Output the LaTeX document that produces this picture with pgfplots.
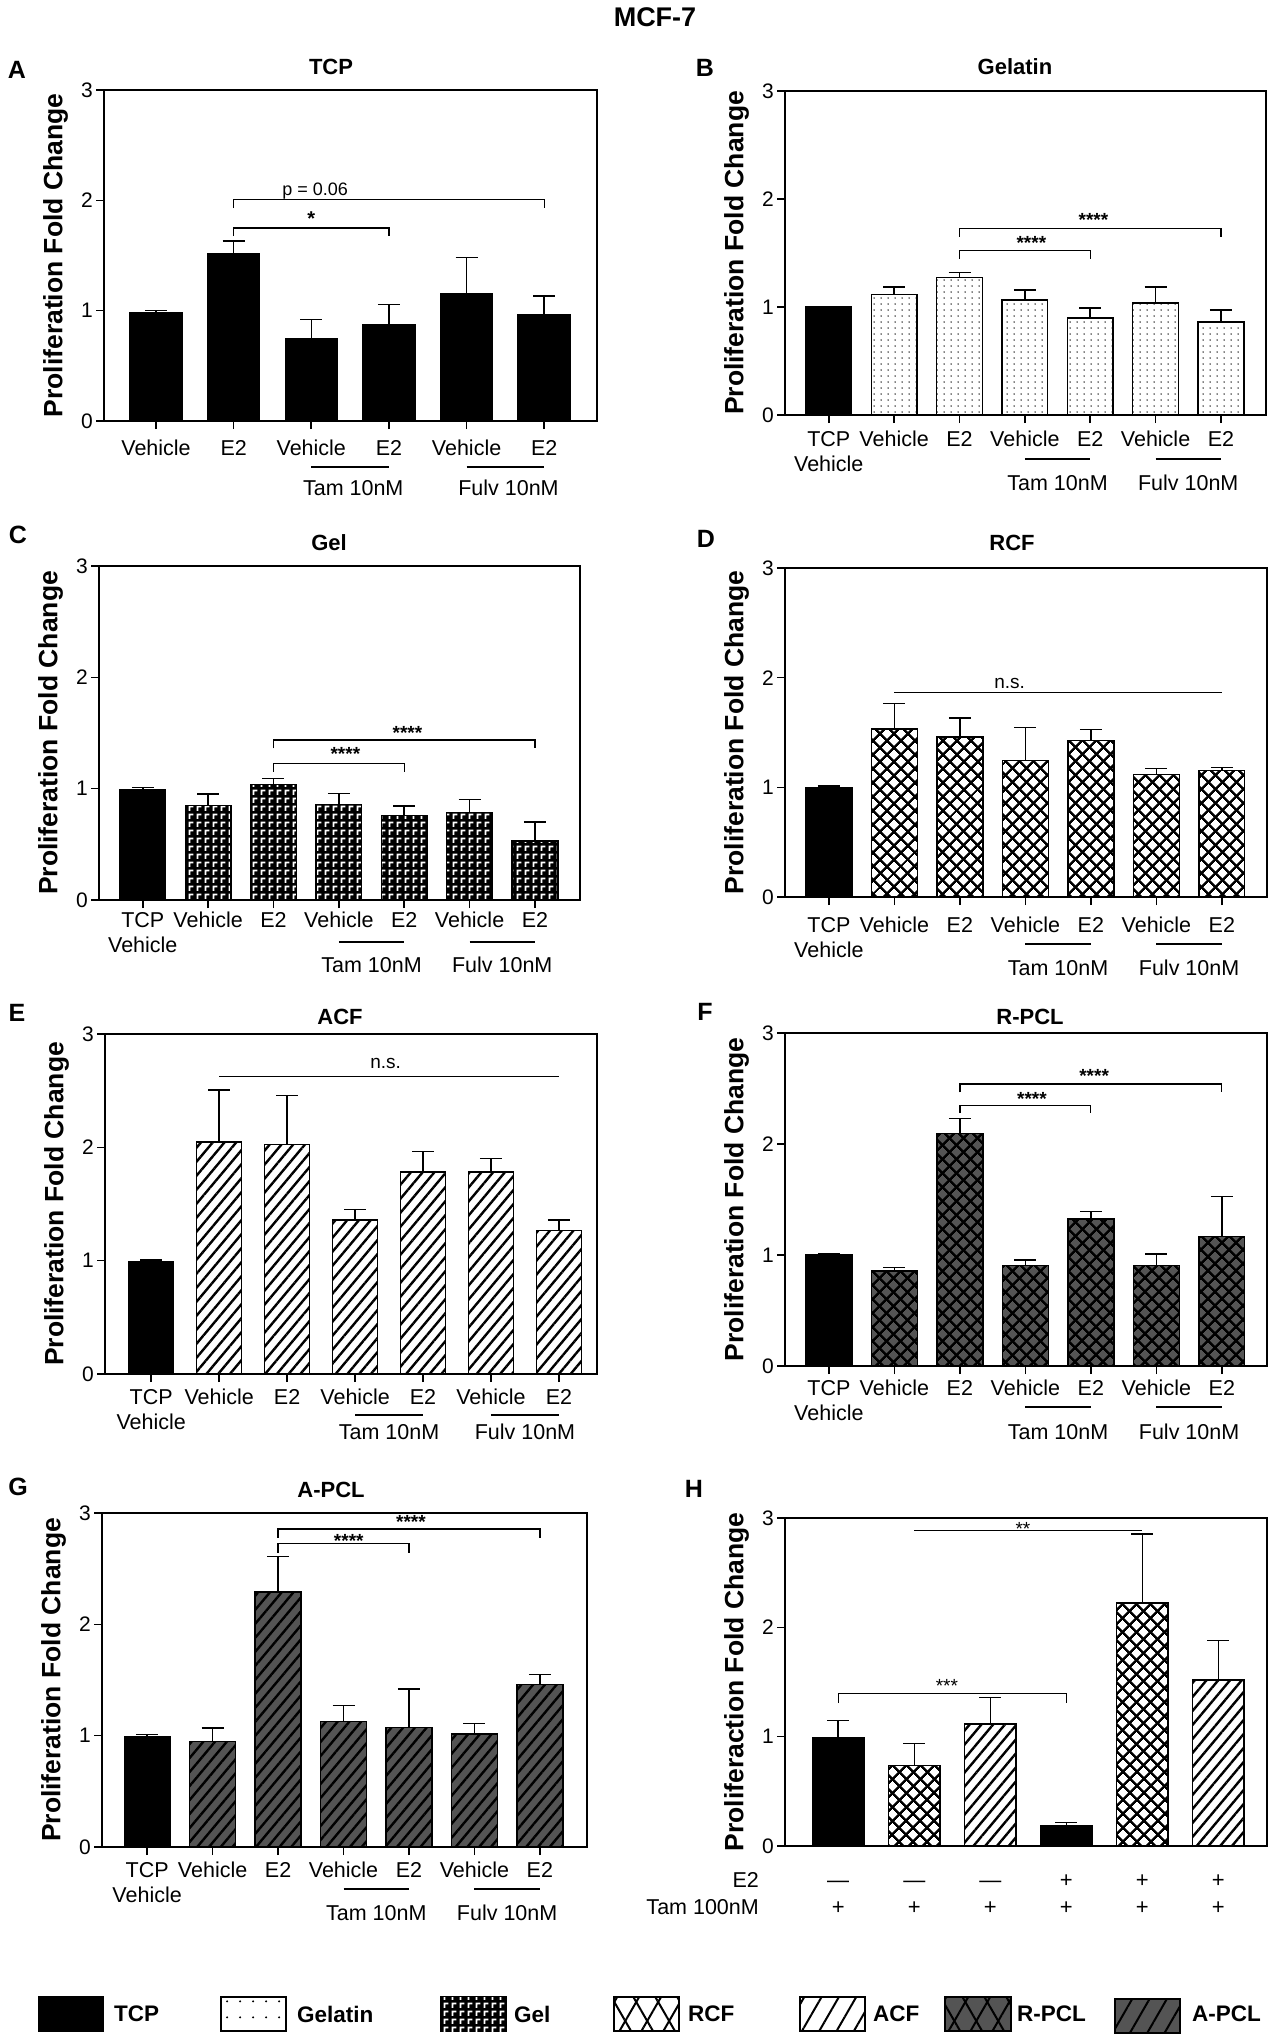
\documentclass[border=0pt]{standalone}
\usepackage{fontspec}
\setmainfont{Liberation Sans}
\usepackage{pgfplots}
\pgfplotsset{compat=1.18}
\usetikzlibrary{patterns,patterns.meta}

\definecolor{pclgray}{RGB}{84,84,84}
\newcommand\fs[1]{\fontsize{#1}{#1}\selectfont}

% fill patterns of the scaffolds
\tikzdeclarepattern{
  name=geldots,
  type=uncolored,
  bounding box={(0pt,0pt) and (6.6pt,6.4pt)},
  tile size={(6.6pt,6.4pt)},
  code={\fill (3.3pt,3.2pt) circle (0.85pt);}
}
\tikzdeclarepattern{
  name=geldotsbig,
  type=uncolored,
  bounding box={(0pt,0pt) and (13pt,16pt)},
  tile size={(13pt,16pt)},
  code={\fill (6.5pt,8pt) circle (1.2pt);}
}
% white corner marks on black for Gel
\tikzdeclarepattern{
  name=gelmark,
  type=uncolored,
  bounding box={(0pt,0pt) and (7.5pt,7.5pt)},
  tile size={(7.5pt,7.5pt)},
  code={\draw[line width=1.9pt] (1.6pt,1.2pt) -- (1.6pt,5.8pt) -- (5.6pt,5.8pt);}
}

\pgfplotsset{
  panel/.style={
    scale only axis, anchor=south west, clip=false,
    ymin=0, ymax=3, ytick={0,1,2,3},
    axis line style={line width=1.8pt},
    tick style={black, line width=1.6pt},
    major tick length=8pt, tick align=outside,
    xtick pos=bottom, ytick pos=left,
    xtick={1,...,7},
    /pgf/number format/assume math mode=true,
    yticklabel style={font=\fs{21}, inner sep=0pt, anchor=east, xshift=-3pt},
    xticklabel style={font=\fontsize{21.5}{25.5}\selectfont, inner sep=0pt, anchor=north, align=center},
    xticklabels={TCP\\Vehicle, Vehicle, E2, Vehicle, E2, Vehicle, E2},
    error bars/y dir=plus, error bars/y explicit,
    error bars/error bar style={line width=1.5pt, black},
    error bars/error mark options={rotate=90, black, line width=1.5pt, mark size=11pt},
  },
  tcpbar/.style={ybar, bar shift=0pt, draw=black, line width=1.5pt, fill=black},
  gelatinbar/.style={ybar, bar shift=0pt, draw=black, line width=1.5pt, fill=white,
    postaction={pattern=geldots}},
  gelbar/.style={ybar, bar shift=0pt, draw=black, line width=1.5pt, fill=black,
    postaction={pattern=gelmark, pattern color=white}},
  rcfbar/.style={ybar, bar shift=0pt, draw=black, line width=1.5pt, fill=white,
    postaction={pattern={Lines[angle=45,distance=10.5pt,line width=2.6pt]}},
    postaction={pattern={Lines[angle=-45,distance=10.5pt,line width=2.6pt]}}},
  acfbar/.style={ybar, bar shift=0pt, draw=black, line width=1.5pt, fill=white,
    postaction={pattern={Lines[angle=50,distance=9pt,line width=2.4pt]}}},
  rpclbar/.style={ybar, bar shift=0pt, draw=black, line width=1.5pt, fill=pclgray,
    postaction={pattern={Lines[angle=45,distance=10.5pt,line width=2.6pt]}},
    postaction={pattern={Lines[angle=-45,distance=10.5pt,line width=2.6pt]}}},
  apclbar/.style={ybar, bar shift=0pt, draw=black, line width=1.5pt, fill=pclgray,
    postaction={pattern={Lines[angle=50,distance=9pt,line width=2.4pt]}}},
}

% bracket: x1, x2, height, foot
\newcommand\brk[4]{\draw[line width=1.3pt] (axis cs:#1,#4) |- (axis cs:#2,#3) -- (axis cs:#2,#4);}
% group line under the ticks: x1, x2, xc, line offset, text baseline offset, text
\newcommand\grp[6]{%
  \draw[line width=1.5pt] ([yshift=-#4pt]axis cs:#1,0) -- ([yshift=-#4pt]axis cs:#2,0);
  \node[font=\fs{21.5}, anchor=base, inner sep=0pt] at ([yshift=-#5pt]axis cs:#3,0) {#6};}
\newcommand\stars[3]{\node[font=\fs{19}\bfseries, inner sep=0pt, yshift=-4pt] at (axis cs:#1,#2) {#3};}
% sign under a bar of panel H: x, baseline offset, sign
\newcommand\sgn[3]{\node[font=\fs{22}, anchor=base, inner sep=0pt] at ([yshift=-#2pt]axis cs:#1,0) {#3};}

\begin{document}
\begin{tikzpicture}
\useasboundingbox (0pt,0pt) rectangle (1276pt,-2040pt);

\node[font=\fs{27}\bfseries] at (655pt,-17pt) {MCF-7};

% ---------- A: TCP
\begin{axis}[panel, at={(104pt,-421pt)}, width=493pt, height=331pt,
  xmin=0.33, xmax=6.68, xtick={1,...,6},
  xticklabels={Vehicle,E2,Vehicle,E2,Vehicle,E2},
  xticklabel style={yshift=-11pt}]
\addplot[tcpbar, bar width=0.67] coordinates {
  (1,0.985) +- (0,0.015) (2,1.518) +- (0,0.115) (3,0.75) +- (0,0.169)
  (4,0.868) +- (0,0.19) (5,1.155) +- (0,0.325) (6,0.965) +- (0,0.169)};
\brk{2}{4}{1.75}{1.675}
\brk{2}{6}{2.008}{1.93}
\node[font=\fs{20}\bfseries, inner sep=0pt, yshift=-4pt] at (axis cs:3,1.867) {*};
\node[font=\fs{18}, anchor=base, inner sep=0pt] at (axis cs:3.05,2.048) {p = 0.06};
\grp{3}{4}{3.54}{46}{74.7}{Tam 10nM}
\grp{5}{6}{5.54}{46}{74.7}{Fulv 10nM}
\end{axis}

% ---------- B: Gelatin
\begin{axis}[panel, at={(785pt,-415pt)}, width=481pt, height=324pt,
  xmin=0.33, xmax=7.69, xticklabel style={yshift=-8pt}]
\addplot[tcpbar, bar width=0.7] coordinates {(1,1.0) +- (0,0.006)};
\addplot[gelatinbar, bar width=0.7] coordinates {
  (2,1.116) +- (0,0.071) (3,1.274) +- (0,0.046) (4,1.064) +- (0,0.092)
  (5,0.90) +- (0,0.093) (6,1.039) +- (0,0.145) (7,0.86) +- (0,0.111)};
\brk{3}{5}{1.526}{1.449}
\brk{3}{7}{1.727}{1.65}
\stars{4.1}{1.63}{****}
\stars{5.05}{1.843}{****}
\grp{4}{5}{4.5}{44}{75.7}{Tam 10nM}
\grp{6}{7}{6.5}{44}{75.7}{Fulv 10nM}
\end{axis}

% ---------- C: Gel
\begin{axis}[panel, at={(99pt,-900pt)}, width=481pt, height=334pt,
  xmin=0.33, xmax=7.69, xticklabel style={yshift=-4pt}]
\addplot[tcpbar, bar width=0.7] coordinates {(1,0.994) +- (0,0.016)};
\addplot[gelbar, bar width=0.7] coordinates {
  (2,0.85) +- (0,0.102) (3,1.036) +- (0,0.057) (4,0.859) +- (0,0.099)
  (5,0.76) +- (0,0.084) (6,0.784) +- (0,0.12) (7,0.53) +- (0,0.17)};
\brk{3}{5}{1.228}{1.153}
\brk{3}{7}{1.437}{1.362}
\stars{4.1}{1.348}{****}
\stars{5.05}{1.534}{****}
\grp{4}{5}{4.5}{42}{72.7}{Tam 10nM}
\grp{6}{7}{6.5}{42}{72.7}{Fulv 10nM}
\end{axis}

% ---------- D: RCF
\begin{axis}[panel, at={(785pt,-897pt)}, width=482pt, height=329pt,
  xmin=0.33, xmax=7.69, xticklabel style={yshift=-12pt}]
\addplot[tcpbar, bar width=0.7] coordinates {(1,0.999) +- (0,0.011)};
\addplot[rcfbar, bar width=0.7] coordinates {
  (2,1.532) +- (0,0.232) (3,1.459) +- (0,0.174) (4,1.243) +- (0,0.301)
  (5,1.429) +- (0,0.10) (6,1.118) +- (0,0.055) (7,1.154) +- (0,0.025)};
\draw[line width=1.5pt] (axis cs:2,1.864) -- (axis cs:7,1.864);
\node[font=\fs{19}, anchor=base, inner sep=0pt] at (axis cs:3.76,1.905) {n.s.};
\grp{4}{5}{4.5}{47}{78.7}{Tam 10nM}
\grp{6}{7}{6.5}{47}{78.7}{Fulv 10nM}
\end{axis}

% ---------- E: ACF
\begin{axis}[panel, at={(105pt,-1374pt)}, width=492pt, height=340pt,
  xmin=0.32, xmax=7.56, xticklabel style={yshift=-7pt}]
\addplot[tcpbar, bar width=0.66] coordinates {(1,0.988) +- (0,0.018)};
\addplot[acfbar, bar width=0.66] coordinates {
  (2,2.047) +- (0,0.459) (3,2.024) +- (0,0.435) (4,1.359) +- (0,0.094)
  (5,1.782) +- (0,0.18) (6,1.782) +- (0,0.118) (7,1.265) +- (0,0.094)};
\draw[line width=1.5pt] (axis cs:2,2.624) -- (axis cs:7,2.624);
\node[font=\fs{19}, anchor=base, inner sep=0pt] at (axis cs:4.45,2.70) {n.s.};
\grp{4}{5}{4.5}{41}{65.7}{Tam 10nM}
\grp{6}{7}{6.5}{41}{65.7}{Fulv 10nM}
\end{axis}

% ---------- F: R-PCL
\begin{axis}[panel, at={(785pt,-1366pt)}, width=482pt, height=333pt,
  xmin=0.33, xmax=7.69, xticklabel style={yshift=-6pt}]
\addplot[tcpbar, bar width=0.7] coordinates {(1,0.999) +- (0,0.009)};
\addplot[rpclbar, bar width=0.7] coordinates {
  (2,0.858) +- (0,0.03) (3,2.097) +- (0,0.133) (4,0.906) +- (0,0.051)
  (5,1.324) +- (0,0.069) (6,0.906) +- (0,0.102) (7,1.165) +- (0,0.364)};
\brk{3}{5}{2.35}{2.278}
\brk{3}{7}{2.54}{2.465}
\stars{4.1}{2.44}{****}
\stars{5.05}{2.65}{****}
\grp{4}{5}{4.5}{41}{73.7}{Tam 10nM}
\grp{6}{7}{6.5}{41}{73.7}{Fulv 10nM}
\end{axis}

% ---------- G: A-PCL
\begin{axis}[panel, at={(102pt,-1847pt)}, width=485pt, height=334pt,
  xmin=0.31, xmax=7.72, xticklabel style={yshift=-7pt}]
\addplot[tcpbar, bar width=0.7] coordinates {(1,0.994) +- (0,0.015)};
\addplot[apclbar, bar width=0.7] coordinates {
  (2,0.949) +- (0,0.12) (3,2.29) +- (0,0.321) (4,1.129) +- (0,0.143)
  (5,1.075) +- (0,0.344) (6,1.015) +- (0,0.093) (7,1.458) +- (0,0.09)};
\brk{3}{5}{2.725}{2.64}
\brk{3}{7}{2.856}{2.78}
\stars{4.08}{2.788}{****}
\stars{5.03}{2.953}{****}
\grp{4}{5}{4.5}{42}{73.7}{Tam 10nM}
\grp{6}{7}{6.5}{42}{73.7}{Fulv 10nM}
\end{axis}

% ---------- H: Tam 100nM
\begin{axis}[panel, at={(785pt,-1846pt)}, width=482pt, height=328pt,
  xmin=0.30, xmax=6.64, xtick=\empty]
\addplot[tcpbar, bar width=0.68] coordinates {(1,0.992) +- (0,0.155) (4,0.183) +- (0,0.034)};
\addplot[rcfbar, bar width=0.68] coordinates {(2,0.735) +- (0,0.205) (5,2.225) +- (0,0.631)};
\addplot[acfbar, bar width=0.68] coordinates {(3,1.117) +- (0,0.241) (6,1.52) +- (0,0.36)};
\brk{1}{4}{1.392}{1.306}
\draw[line width=1.3pt] (axis cs:2,2.887) -- (axis cs:5,2.887);
\node[font=\fs{19}, inner sep=0pt, yshift=-4pt] at (axis cs:2.43,1.50) {***};
\node[font=\fs{19}, inner sep=0pt, yshift=-4pt] at (axis cs:3.43,2.937) {**};
\sgn{1}{41.5}{—}\sgn{2}{41.5}{—}\sgn{3}{41.5}{—}
\sgn{4}{41.5}{+}\sgn{5}{41.5}{+}\sgn{6}{41.5}{+}
\sgn{1}{68.5}{+}\sgn{2}{68.5}{+}\sgn{3}{68.5}{+}
\sgn{4}{68.5}{+}\sgn{5}{68.5}{+}\sgn{6}{68.5}{+}
\end{axis}

\node[font=\fs{21.5}, anchor=base east, inner sep=0pt] at (759pt,-1887.5pt) {E2};
\node[font=\fs{21.5}, anchor=base east, inner sep=0pt] at (759pt,-1914.5pt) {Tam 100nM};

% y labels, titles, panel letters
\foreach \x/\y/\t in {55.5/255.5/Proliferation Fold Change, 736.5/253/Proliferation Fold Change,
    50.5/733/Proliferation Fold Change, 736.5/732.5/Proliferation Fold Change,
    56.5/1204/Proliferation Fold Change, 736.5/1199.5/Proliferation Fold Change,
    53.5/1680/Proliferation Fold Change, 736.5/1682/Proliferaction Fold Change}
  \node[rotate=90, font=\fs{26.5}\bfseries] at (\x pt,-\y pt) {\t};
\foreach \x/\y/\t in {331/67/TCP, 1015/67/Gelatin, 329/543/Gel, 1012/543/RCF,
    340/1017/ACF, 1030/1017/R-PCL, 331/1490/A-PCL}
  \node[font=\fs{22}\bfseries] at (\x pt,-\y pt) {\t};
\foreach \x/\y/\t in {17/70/A, 705/68/B, 18/535/C, 706/539/D, 17/1013/E, 705/1012/F,
    18/1487/G, 694/1489/H}
  \node[font=\fs{25}\bfseries] at (\x pt,-\y pt) {\t};

% legend
\begin{scope}[line width=1.2pt]
\filldraw[black] (39pt,-1997pt) rectangle (103pt,-2031pt);
\draw[fill=white, postaction={pattern=geldotsbig}] (221pt,-1997pt) rectangle (286pt,-2031pt);
\draw[fill=black, postaction={pattern=gelmark, pattern color=white}] (441pt,-1997pt) rectangle (506pt,-2031pt);
\draw[fill=white, postaction={pattern={Lines[angle=60,distance=19pt,line width=2pt]}},
  postaction={pattern={Lines[angle=-60,distance=19pt,line width=2pt]}}]
  (614pt,-1997pt) rectangle (679pt,-2031pt);
\draw[fill=white, postaction={pattern={Lines[angle=60,distance=15pt,line width=2pt]}}]
  (800pt,-1997pt) rectangle (865pt,-2031pt);
\draw[fill=pclgray, postaction={pattern={Lines[angle=60,distance=19pt,line width=2pt]}},
  postaction={pattern={Lines[angle=-60,distance=19pt,line width=2pt]}}]
  (945pt,-1997pt) rectangle (1011pt,-2031pt);
\draw[fill=pclgray, postaction={pattern={Lines[angle=60,distance=15pt,line width=2pt]}}]
  (1115pt,-1999pt) rectangle (1180pt,-2033pt);
\end{scope}
\foreach \x/\t in {114/TCP, 297/Gelatin, 514/Gel, 688/RCF, 873/ACF, 1017/R-PCL, 1192/A-PCL}
  \node[font=\fs{22.5}\bfseries, anchor=west, inner sep=0pt] at (\x pt,-2014pt) {\t};
\end{tikzpicture}
\end{document}
